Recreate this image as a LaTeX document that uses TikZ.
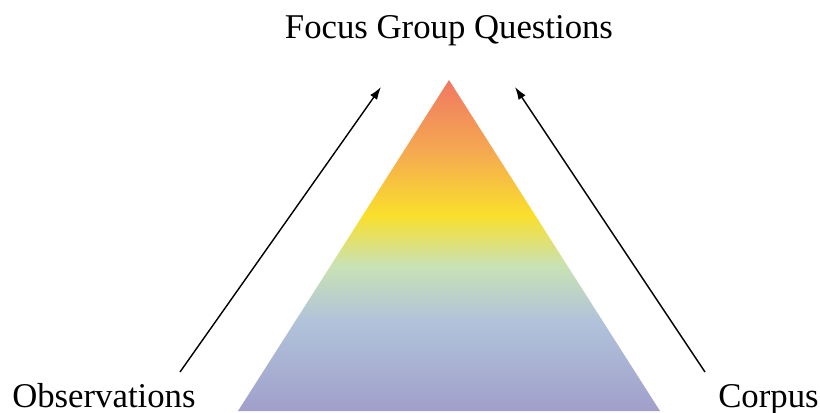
\documentclass[tikz,border=0pt]{standalone}
\usepackage{fontspec}
\setmainfont{Liberation Serif}
\usetikzlibrary{arrows.meta, positioning}

\definecolor{pyrTop}{HTML}{F07862}
\definecolor{pyrOrange}{HTML}{F5A852}
\definecolor{pyrYellow}{HTML}{FADF2C}
\definecolor{pyrGreen}{HTML}{C9E2B4}
\definecolor{pyrBlue}{HTML}{B1C3DA}
\definecolor{pyrBottom}{HTML}{A09FCB}

\pgfdeclareverticalshading{pyramid}{100bp}{%
  color(0bp)=(pyrBottom); color(25bp)=(pyrBottom);
  color(38.7bp)=(pyrBlue); color(47bp)=(pyrGreen);
  color(54.6bp)=(pyrYellow); color(64.4bp)=(pyrOrange);
  color(75bp)=(pyrTop); color(100bp)=(pyrTop)}

\begin{document}
\begin{tikzpicture}[
    x=0.025cm, y=-0.025cm,
    label/.style={font=\fontsize{24.7}{29}\selectfont, inner sep=0pt},
    arrow/.style={-{Latex[length=9pt, width=6pt]}, line width=1pt, draw=black}
]
    \useasboundingbox (0,0) rectangle (820,413);

    % Pyramid
    \coordinate (apex) at (449,80);
    \coordinate (baseL) at (238,411);
    \coordinate (baseR) at (660,411);
    \shade[shading=pyramid] (apex) -- (baseL) -- (baseR) -- cycle;

    % Labels
    \node[label] (questions) at (449,31) {Focus Group Questions};
    \node[label, anchor=base west] (observations) at (12,407) {Observations};
    \node[label, anchor=base west] (corpus) at (718,407) {Corpus};

    % Arrows
    \coordinate (obsStart) at (180,372);
    \coordinate (obsEnd) at (381,87);
    \coordinate (corStart) at (705,372);
    \coordinate (corEnd) at (515,87);
    \draw[arrow] (obsStart) -- (obsEnd);
    \draw[arrow] (corStart) -- (corEnd);
\end{tikzpicture}
\end{document}
